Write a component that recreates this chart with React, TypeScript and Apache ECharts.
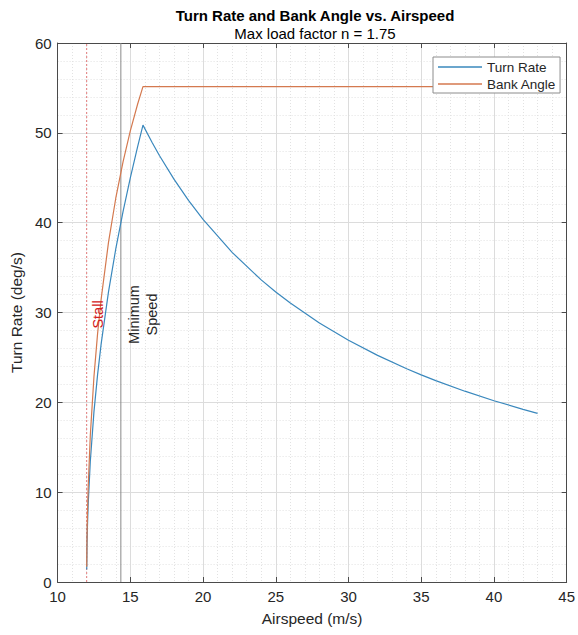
import React, { useEffect, useRef } from "react";
import * as echarts from "echarts";

// Airspeed samples (m/s)
const airspeed = [
  12.003, 12.02, 12.05, 12.1, 12.25, 12.5, 12.75, 13, 13.5, 14, 14.5, 15, 15.5, 15.87,
  16.5, 17, 18, 19, 20, 22, 24, 25, 26, 28, 30, 32, 34, 35, 36, 38, 40, 42, 43,
];
// Turn rate (deg/s)
const turnRate = [
  1.4, 3.82, 6.04, 8.53, 13.45, 18.94, 23.09, 26.56, 32.3, 37.07, 41.24, 44.99, 48.43, 50.86,
  48.92, 47.48, 44.85, 42.48, 40.36, 36.69, 33.63, 32.29, 31.05, 28.83, 26.91, 25.23, 23.74,
  23.06, 22.42, 21.24, 20.18, 19.22, 18.77,
];
// Bank angle (deg)
const bankAngle = [
  1.7, 4.67, 7.38, 10.41, 16.34, 22.84, 27.65, 31.56, 37.8, 42.72, 46.77, 50.21, 53.18, 55.15,
  55.15, 55.15, 55.15, 55.15, 55.15, 55.15, 55.15, 55.15, 55.15, 55.15, 55.15, 55.15, 55.15,
  55.15, 55.15, 55.15, 55.15, 55.15, 55.15,
];
const stallSpeed = 12;
const minimumSpeed = 14.35;
const labelLevel = 30;
const xMin = 10;
const xMax = 45;
const yMin = 0;
const yMax = 60;
const seriesNames = ["Turn Rate", "Bank Angle"];
const titleText = "Turn Rate and Bank Angle vs. Airspeed";
const subtitleText = "Max load factor n = 1.75";

const FONT = "'Liberation Sans', Arial, Helvetica, sans-serif";
const AXIS_COLOR = "#4a4a4a";
const TEXT_COLOR = "#262626";
const BLUE = "#3a88bd";
const ORANGE = "#d4794f";

export default function App() {
  const ref = useRef<HTMLDivElement | null>(null);

  useEffect(() => {
    if (!ref.current) return;
    const chart = echarts.init(ref.current, undefined, { renderer: "svg" });

    const xCommon = { type: "value" as const, min: xMin, max: xMax, interval: 5 };
    const yCommon = { type: "value" as const, min: yMin, max: yMax, interval: 10 };
    const gridLines = {
      splitLine: { show: true, lineStyle: { color: "#dcdcdc", width: 1 } },
      minorTick: { show: false, splitNumber: 5 },
      minorSplitLine: { show: true, lineStyle: { color: "#e2e2e2", width: 1, type: [1, 2] } },
    };
    const boxAxisLine = { show: true, onZero: false, lineStyle: { color: AXIS_COLOR, width: 1 } };
    const inTick = { show: true, inside: true, length: 5, lineStyle: { color: AXIS_COLOR } };

    chart.setOption({
      animation: false,
      backgroundColor: "#ffffff",
      title: [
        {
          text: titleText,
          left: 310,
          top: 3,
          textAlign: "center",
          textStyle: { fontFamily: FONT, fontSize: 15, fontWeight: "bold", color: "#000" },
        },
        {
          text: subtitleText,
          left: 310,
          top: 21,
          textAlign: "center",
          textStyle: { fontFamily: FONT, fontSize: 15, fontWeight: "normal", color: "#000" },
        },
      ],
      grid: { left: 53, right: 11, top: 43, bottom: 53, containLabel: false },
      legend: {
        data: seriesNames,
        orient: "vertical",
        left: 433,
        top: 57,
        padding: [3, 4, 2, 5],
        itemGap: 3,
        itemWidth: 44,
        itemHeight: 1.5,
        icon: "rect",
        backgroundColor: "#ffffff",
        borderColor: "#8c8c8c",
        borderWidth: 1,
        textStyle: { fontFamily: FONT, fontSize: 13.5, color: TEXT_COLOR, lineHeight: 14 },
      },
      xAxis: [
        {
          ...xCommon,
          position: "bottom",
          name: "Airspeed (m/s)",
          nameLocation: "middle",
          nameGap: 28,
          nameTextStyle: { fontFamily: FONT, fontSize: 15.5, color: TEXT_COLOR },
          axisLine: boxAxisLine,
          axisTick: inTick,
          axisLabel: { fontFamily: FONT, fontSize: 15, color: TEXT_COLOR, margin: 7 },
          ...gridLines,
        },
        {
          ...xCommon,
          position: "top",
          axisLine: boxAxisLine,
          axisTick: inTick,
          axisLabel: { show: false },
          splitLine: { show: false },
        },
      ],
      yAxis: [
        {
          ...yCommon,
          position: "left",
          name: "Turn Rate (deg/s)",
          nameLocation: "middle",
          nameGap: 29,
          nameTextStyle: { fontFamily: FONT, fontSize: 15.5, color: TEXT_COLOR },
          axisLine: boxAxisLine,
          axisTick: inTick,
          axisLabel: { fontFamily: FONT, fontSize: 15, color: TEXT_COLOR, margin: 6 },
          ...gridLines,
        },
        {
          ...yCommon,
          position: "right",
          axisLine: boxAxisLine,
          axisTick: inTick,
          axisLabel: { show: false },
          splitLine: { show: false },
        },
      ],
      series: [
        {
          name: "stall-line",
          type: "line",
          symbol: "none",
          silent: true,
          data: [
            [stallSpeed, yMin],
            [stallSpeed, yMax],
          ],
          lineStyle: { color: "#e27a7a", width: 1, type: [2, 2] },
          z: 2,
        },
        {
          name: "min-speed-line",
          type: "line",
          symbol: "none",
          silent: true,
          data: [
            [minimumSpeed, yMin],
            [minimumSpeed, yMax],
          ],
          lineStyle: { color: "#8a8a8a", width: 1, type: "solid" },
          z: 2,
        },
        {
          name: seriesNames[0],
          type: "line",
          symbol: "none",
          data: airspeed.map((v, i) => [v, turnRate[i]]),
          lineStyle: { color: BLUE, width: 1.2 },
          itemStyle: { color: BLUE },
          z: 3,
        },
        {
          name: seriesNames[1],
          type: "line",
          symbol: "none",
          data: airspeed.map((v, i) => [v, bankAngle[i]]),
          lineStyle: { color: ORANGE, width: 1.2 },
          itemStyle: { color: ORANGE },
          z: 3,
        },
      ],
    });

    const pStall = chart.convertToPixel({ gridIndex: 0 }, [stallSpeed, labelLevel]) as number[];
    const pMin = chart.convertToPixel({ gridIndex: 0 }, [minimumSpeed, labelLevel]) as number[];

    chart.setOption({
      graphic: [
        {
          type: "text",
          x: pStall[0] + 11.5,
          y: pStall[1] + 2,
          rotation: Math.PI / 2,
          style: {
            text: "Stall",
            fontFamily: FONT,
            fontSize: 14.5,
            fill: "#d42020",
            align: "center",
            verticalAlign: "middle",
          },
          z: 10,
        },
        {
          type: "text",
          x: pMin[0] + 22.5,
          y: pMin[1] + 2,
          rotation: Math.PI / 2,
          style: {
            text: "Minimum\nSpeed",
            fontFamily: FONT,
            fontSize: 14.5,
            lineHeight: 18,
            fill: TEXT_COLOR,
            align: "center",
            verticalAlign: "middle",
          },
          z: 10,
        },
      ],
    });

    return () => chart.dispose();
  }, []);

  return (
    <div
      ref={ref}
      style={{ position: "fixed", left: 0, top: 0, width: 578, height: 635, background: "#fff" }}
    />
  );
}
